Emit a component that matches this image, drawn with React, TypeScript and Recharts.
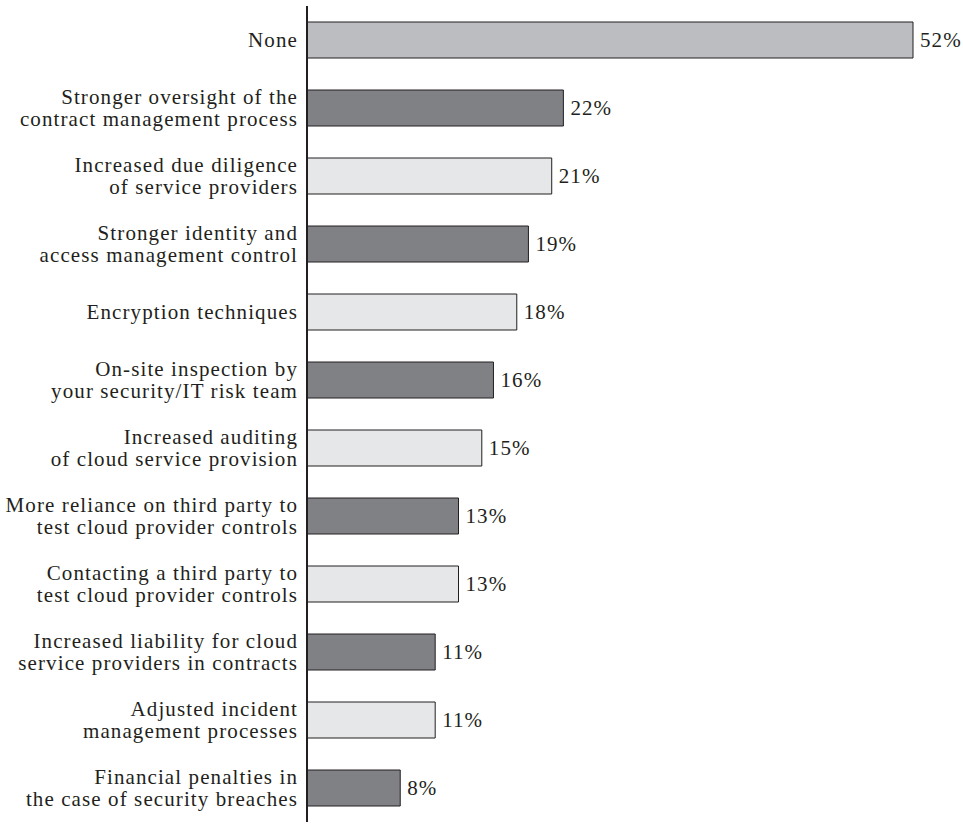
import React from 'react';
import { BarChart, Bar, XAxis, YAxis, Cell, LabelList } from 'recharts';

const categories = [
  'None',
  'Stronger oversight of the\ncontract management process',
  'Increased due diligence\nof service providers',
  'Stronger identity and\naccess management control',
  'Encryption techniques',
  'On-site inspection by\nyour security/IT risk team',
  'Increased auditing\nof cloud service provision',
  'More reliance on third party to\ntest cloud provider controls',
  'Contacting a third party to\ntest cloud provider controls',
  'Increased liability for cloud\nservice providers in contracts',
  'Adjusted incident\nmanagement processes',
  'Financial penalties in\nthe case of security breaches',
];

const values = [52, 22, 21, 19, 18, 16, 15, 13, 13, 11, 11, 8];

const data = categories.map((name, i) => ({ name, value: values[i] }));

const FONT = '"Liberation Serif", serif';
const TEXT = '#231f20';
const FS = 21;
const LS = 1.1;

const fillFor = (i: number) => (i === 0 ? '#bcbdc0' : i % 2 === 1 ? '#808184' : '#e6e7e8');

const Tick = (props: any) => {
  const { x, y, payload } = props;
  const lines = String(payload.value).split('\n');
  const lh = 22;
  return (
    <text x={x - 1} y={y} textAnchor="end" fontFamily={FONT} fontSize={FS} letterSpacing={LS} fill={TEXT}>
      {lines.map((l, i) => (
        <tspan key={i} x={x - 1} dy={i === 0 ? 6.7 - (lh / 2) * (lines.length - 1) : lh}>
          {l}
        </tspan>
      ))}
    </text>
  );
};

export default function App() {
  return (
    <div style={{ position: 'absolute', left: 0, top: 0, background: '#fff' }}>
      <BarChart
        width={963}
        height={827}
        data={data}
        layout="vertical"
        margin={{ top: 6, right: 50, bottom: 5, left: 0 }}
      >
        <XAxis type="number" domain={[0, 52]} hide />
        <YAxis
          type="category"
          dataKey="name"
          width={307}
          axisLine={{ stroke: TEXT, strokeWidth: 2 }}
          tickLine={false}
          tick={<Tick />}
          interval={0}
        />
        <Bar dataKey="value" barSize={36} stroke={TEXT} strokeWidth={1} isAnimationActive={false}>
          {data.map((d, i) => (
            <Cell key={i} fill={fillFor(i)} />
          ))}
          <LabelList
            dataKey="value"
            position="right"
            offset={7}
            formatter={(v: any) => `${v}%`}
            style={{ fontFamily: FONT, fontSize: FS, letterSpacing: LS, fill: TEXT }}
          />
        </Bar>
      </BarChart>
    </div>
  );
}
